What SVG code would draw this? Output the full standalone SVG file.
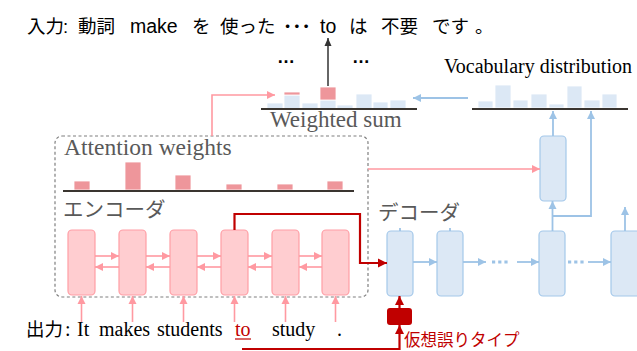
<svg xmlns="http://www.w3.org/2000/svg" width="637" height="351" viewBox="0 0 637 351">
<style>
.jp{font-family:"Noto Sans CJK JP","Noto Sans",sans-serif;}
.sans{font-family:"Liberation Sans",Arial,sans-serif;}
.serif{font-family:"Liberation Serif","Times New Roman",serif;}
.grey{fill:#595959;}
.enc{fill:#FFCDD0;stroke:#FF9EA5;stroke-width:1.2;}
.dec{fill:#DCE8F5;stroke:#A4C8EA;stroke-width:1.2;}
.vbar{fill:#DCE8F5;stroke:#fff;stroke-width:0.8;}
.pbar{fill:#EE969B;stroke:#fff;stroke-width:0.8;}
.pink{stroke:#FF99A1;stroke-width:1.6;fill:none;}
.blue{stroke:#9DC3E6;stroke-width:1.8;fill:none;}
.red{stroke:#C00000;stroke-width:2.2;fill:none;}
.base{stroke:#3A3530;stroke-width:2;}
</style>
<defs>
<marker id="ap" markerUnits="userSpaceOnUse" markerWidth="9" markerHeight="9" refX="8" refY="4.5" orient="auto"><path d="M0,0.5 L8,4.5 L0,8.5 Z" fill="#FF99A1"/></marker>
<marker id="ab" markerUnits="userSpaceOnUse" markerWidth="9" markerHeight="9" refX="8" refY="4.5" orient="auto"><path d="M0,0.5 L8,4.5 L0,8.5 Z" fill="#9DC3E6"/></marker>
<marker id="ar" markerUnits="userSpaceOnUse" markerWidth="10" markerHeight="10" refX="9" refY="5" orient="auto"><path d="M0,0.5 L9,5 L0,9.5 Z" fill="#C00000"/></marker>
<marker id="ak" markerUnits="userSpaceOnUse" markerWidth="9" markerHeight="9" refX="8" refY="4.5" orient="auto"><path d="M0,1 L8,4.5 L0,8 Z" fill="#333"/></marker>
</defs>

<!-- title -->
<g id="input-text" font-size="18.5">
<text class="jp" x="27" y="33">入力</text>
<text class="sans" x="63" y="33">:</text>
<text class="jp" x="78" y="33">動詞</text>
<text class="sans" x="130" y="33" font-size="19.5">make</text>
<text class="jp" x="192" y="33">を</text>
<text class="jp" x="220" y="33">使った</text>
<text class="jp" x="283" y="33" font-weight="bold">･･･</text>
<text class="sans" x="320" y="33" font-size="19.5">to</text>
<text class="jp" x="349" y="33">は</text>
<text class="jp" x="381" y="33">不要</text>
<text class="jp" x="432" y="33">です</text>
<text class="jp" x="475" y="33">。</text>
</g>

<!-- weighted sum -->
<g id="weighted-sum">
<rect class="vbar" x="267" y="103" width="16" height="6"/>
<rect class="vbar" x="284" y="95" width="16" height="14"/>
<rect class="pbar" x="284" y="92" width="16" height="3"/>
<rect class="vbar" x="302" y="103" width="16" height="6"/>
<rect class="vbar" x="320" y="100" width="16" height="9"/>
<rect class="pbar" x="320" y="87" width="16" height="13"/>
<rect class="vbar" x="337" y="105" width="16" height="4"/>
<rect class="vbar" x="356" y="94" width="16" height="15"/>
<rect class="vbar" x="373" y="102" width="15" height="7"/>
<rect class="vbar" x="390" y="100" width="16" height="9"/>
<line class="base" x1="261" y1="109" x2="417" y2="109"/>
<text class="serif grey" x="270" y="127" font-size="23">Weighted sum</text>
<text class="sans" x="277" y="63" font-size="18" font-weight="bold">…</text>
<text class="sans" x="352" y="63" font-size="18" font-weight="bold">…</text>
</g>

<!-- vocabulary distribution -->
<g id="vocab-dist">
<text class="serif" x="444" y="73" font-size="20">Vocabulary distribution</text>
<rect class="vbar" x="478" y="101" width="15" height="7"/>
<rect class="vbar" x="495" y="85" width="16" height="23"/>
<rect class="vbar" x="513" y="100" width="15" height="8"/>
<rect class="vbar" x="531" y="94" width="16" height="14"/>
<rect class="vbar" x="549" y="104" width="15" height="4"/>
<rect class="vbar" x="567" y="86" width="15" height="22"/>
<rect class="vbar" x="584" y="100" width="16" height="8"/>
<rect class="vbar" x="602" y="94" width="15" height="14"/>
<line class="base" x1="472" y1="109" x2="628" y2="109"/>
</g>

<!-- encoder box -->
<g id="encoder">
<rect x="55" y="136" width="313" height="161" rx="7" fill="none" stroke="#7F7F7F" stroke-width="1.2" stroke-dasharray="3,2.5"/>
<text class="serif grey" x="64" y="155" font-size="23.5">Attention weights</text>
<rect class="pbar" x="74" y="181" width="16" height="9"/>
<rect class="pbar" x="125" y="162" width="16" height="28"/>
<rect class="pbar" x="175" y="175" width="16" height="15"/>
<rect class="pbar" x="226" y="184" width="16" height="6"/>
<rect class="pbar" x="277" y="184" width="16" height="6"/>
<rect class="pbar" x="327" y="181" width="16" height="9"/>
<line class="base" x1="63" y1="191" x2="354" y2="191"/>
<text class="jp grey" x="63" y="217" font-size="20.5">エンコーダ</text>
</g>
<g id="enc1"><rect class="enc" x="68" y="230" width="27" height="65" rx="4"/></g>
<g id="enc2"><rect class="enc" x="119" y="230" width="27" height="65" rx="4"/></g>
<g id="enc3"><rect class="enc" x="170" y="230" width="27" height="65" rx="4"/></g>
<g id="enc4"><rect class="enc" x="221" y="230" width="27" height="65" rx="4"/></g>
<g id="enc5"><rect class="enc" x="272" y="230" width="27" height="65" rx="4"/></g>
<g id="enc6"><rect class="enc" x="322" y="230" width="27" height="65" rx="4"/></g>

<!-- decoder -->
<g id="decoder-label"><text class="jp grey" x="378" y="220" font-size="20.5">デコーダ</text></g>
<g id="dec1"><rect class="dec" x="387" y="231" width="26" height="65" rx="4"/></g>
<g id="dec2"><rect class="dec" x="437" y="231" width="26" height="65" rx="4"/></g>
<g id="dec3"><rect class="dec" x="539" y="231" width="26" height="65" rx="4"/></g>
<g id="dec4"><rect class="dec" x="611" y="231" width="30" height="65" rx="4"/></g>
<g id="dec-up"><rect class="dec" x="540" y="136" width="26" height="65" rx="4"/></g>
<g id="error-type">
<rect x="387" y="308" width="25" height="17" rx="3" fill="#C00000"/>
<text class="jp" x="404" y="346" font-size="16.5" fill="#C00000">仮想誤りタイプ</text>
</g>

<!-- output text -->
<g id="output-text" class="serif" font-size="20">
<text class="jp" x="26" y="336" font-size="18.5">出力</text>
<text x="65" y="336">:</text>
<text x="77" y="336">It</text>
<text x="99" y="336">makes</text>
<text x="157" y="336">students</text>
<text x="235" y="336" fill="#C00000">to</text>
<line x1="235" y1="339" x2="251" y2="339" stroke="#C00000" stroke-width="1.2"/>
<text x="272" y="336">study</text>
<text x="337" y="336">.</text>
</g>

<!-- connectors -->
<g id="connectors">
<line class="pink" x1="81.5" y1="322" x2="81.5" y2="296" marker-end="url(#ap)"/>
<line class="pink" x1="132.5" y1="322" x2="132.5" y2="296" marker-end="url(#ap)"/>
<line class="pink" x1="183.5" y1="322" x2="183.5" y2="296" marker-end="url(#ap)"/>
<line class="pink" x1="234.5" y1="322" x2="234.5" y2="296" marker-end="url(#ap)"/>
<line class="pink" x1="285.5" y1="322" x2="285.5" y2="296" marker-end="url(#ap)"/>
<line class="pink" x1="335.5" y1="322" x2="335.5" y2="296" marker-end="url(#ap)"/>
<line class="pink" x1="95" y1="256" x2="119" y2="256" marker-end="url(#ap)"/>
<line class="pink" x1="146" y1="256" x2="170" y2="256" marker-end="url(#ap)"/>
<line class="pink" x1="197" y1="256" x2="221" y2="256" marker-end="url(#ap)"/>
<line class="pink" x1="248" y1="256" x2="272" y2="256" marker-end="url(#ap)"/>
<line class="pink" x1="299" y1="256" x2="322" y2="256" marker-end="url(#ap)"/>
<line class="pink" x1="119" y1="267" x2="95" y2="267" marker-end="url(#ap)"/>
<line class="pink" x1="170" y1="267" x2="146" y2="267" marker-end="url(#ap)"/>
<line class="pink" x1="221" y1="267" x2="197" y2="267" marker-end="url(#ap)"/>
<line class="pink" x1="272" y1="267" x2="248" y2="267" marker-end="url(#ap)"/>
<line class="pink" x1="322" y1="267" x2="299" y2="267" marker-end="url(#ap)"/>
<path class="pink" d="M212,136 V95 H275" marker-end="url(#ap)"/>
<path class="pink" d="M368,169 H540" marker-end="url(#ap)"/>
<path class="red" d="M234.5,230 V214 H360 V263 H387" marker-end="url(#ar)"/>
<path class="red" d="M242,349 H399.5 V325" marker-end="url(#ar)"/>
<line class="red" x1="399.5" y1="308" x2="399.5" y2="296" marker-end="url(#ar)"/>
<line class="blue" x1="413" y1="262" x2="437" y2="262" marker-end="url(#ab)"/>
<line class="blue" x1="463" y1="262" x2="486" y2="262" marker-end="url(#ab)"/>
<line x1="492" y1="262" x2="510" y2="262" stroke="#9DC3E6" stroke-width="3.2" stroke-dasharray="3.2,3"/>
<line class="blue" x1="517" y1="262" x2="539" y2="262" marker-end="url(#ab)"/>
<line x1="568" y1="262" x2="586" y2="262" stroke="#9DC3E6" stroke-width="3.2" stroke-dasharray="3.2,3"/>
<line class="blue" x1="588" y1="262" x2="611" y2="262" marker-end="url(#ab)"/>
<line class="blue" x1="400" y1="228" x2="400" y2="231"/>
<line class="blue" x1="450" y1="228" x2="450" y2="231"/>
<line class="blue" x1="552.5" y1="231" x2="552.5" y2="201" marker-end="url(#ab)"/>
<path class="blue" d="M552.5,216 H591 V111" marker-end="url(#ab)"/>
<line class="blue" x1="553" y1="136" x2="553" y2="111" marker-end="url(#ab)"/>
<line class="blue" x1="625" y1="231" x2="625" y2="207" marker-end="url(#ab)"/>
<line class="blue" x1="468" y1="98" x2="413" y2="98" marker-end="url(#ab)"/>
<line x1="328" y1="86" x2="328" y2="38" stroke="#333" stroke-width="1.5" marker-end="url(#ak)"/>
</g>
</svg>
